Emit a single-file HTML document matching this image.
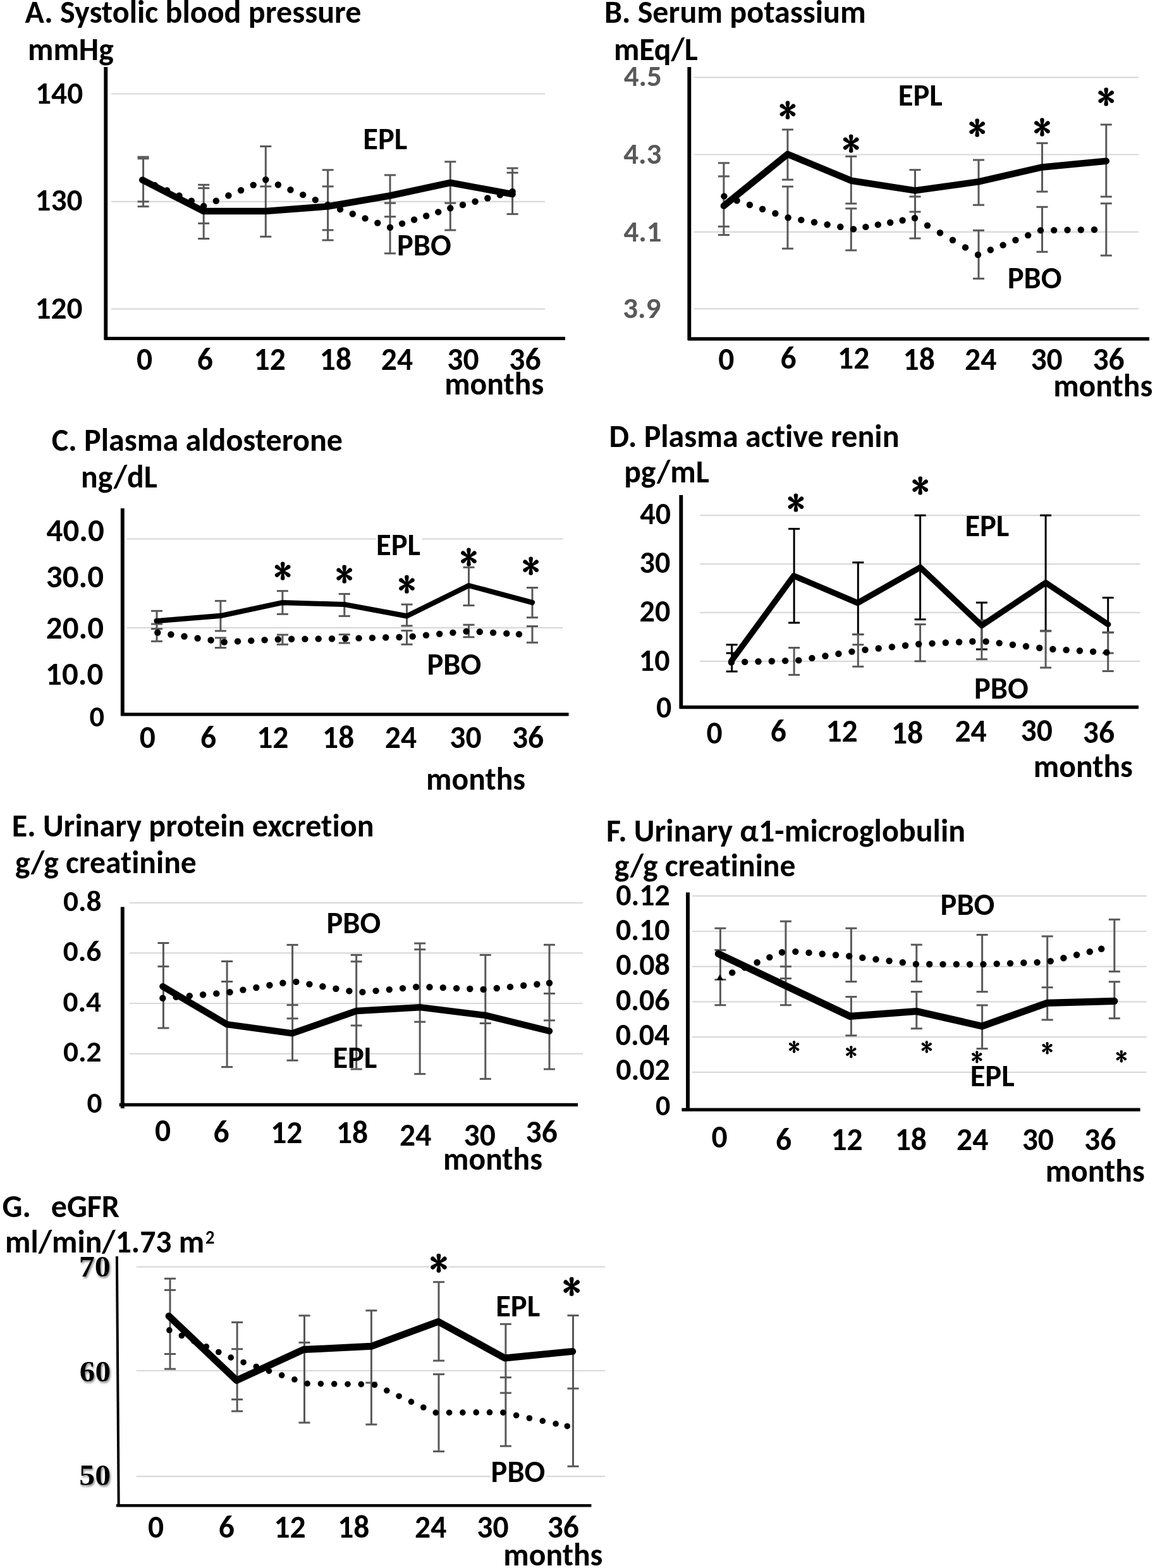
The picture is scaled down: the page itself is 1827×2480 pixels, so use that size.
<!DOCTYPE html>
<html><head><meta charset="utf-8"><title>Figure</title>
<style>html,body{margin:0;padding:0;background:#fff;}svg{display:block;font-variant-ligatures:none;}</style></head>
<body><svg width="1827" height="2480" viewBox="0 0 1827 2480">
<defs><filter id="sh" x="-20%" y="-20%" width="140%" height="150%"><feDropShadow dx="1.5" dy="2.5" stdDeviation="1.6" flood-color="#7a7a7a" flood-opacity="0.9"/></filter></defs>
<rect width="1827" height="2480" fill="#fff"/>
<text x="39.6" y="36.3" font-family="Carlito, 'Liberation Sans', sans-serif" font-weight="bold" font-size="50.1" fill="#000" textLength="531.9" lengthAdjust="spacingAndGlyphs">A. Systolic blood pressure</text>
<text x="44.0" y="95.2" font-family="Carlito, 'Liberation Sans', sans-serif" font-weight="bold" font-size="49.7" fill="#000" textLength="135.8" lengthAdjust="spacingAndGlyphs">mmHg</text>
<g stroke="#d9d9d9" stroke-width="2.2"><line x1="176" y1="148.5" x2="862" y2="148.5"/><line x1="176" y1="318.9" x2="862" y2="318.9"/><line x1="176" y1="488.6" x2="862" y2="488.6"/></g>
<text x="56.1" y="163.5" font-family="Carlito, 'Liberation Sans', sans-serif" font-weight="bold" font-size="49.4" fill="#000" textLength="75.1" lengthAdjust="spacingAndGlyphs">140</text>
<text x="55.4" y="333.4" font-family="Carlito, 'Liberation Sans', sans-serif" font-weight="bold" font-size="49.4" fill="#000" textLength="75.1" lengthAdjust="spacingAndGlyphs">130</text>
<text x="55.4" y="504.3" font-family="Carlito, 'Liberation Sans', sans-serif" font-weight="bold" font-size="49.4" fill="#000" textLength="75.1" lengthAdjust="spacingAndGlyphs">120</text>
<text x="216.1" y="584.5" font-family="Carlito, 'Liberation Sans', sans-serif" font-weight="bold" font-size="49.6" fill="#000">0</text>
<text x="311.8" y="584.5" font-family="Carlito, 'Liberation Sans', sans-serif" font-weight="bold" font-size="49.6" fill="#000">6</text>
<text x="401.6" y="584.5" font-family="Carlito, 'Liberation Sans', sans-serif" font-weight="bold" font-size="49.6" fill="#000" textLength="50.3" lengthAdjust="spacingAndGlyphs">12</text>
<text x="505.8" y="584.5" font-family="Carlito, 'Liberation Sans', sans-serif" font-weight="bold" font-size="49.6" fill="#000" textLength="50.3" lengthAdjust="spacingAndGlyphs">18</text>
<text x="602.8" y="584.5" font-family="Carlito, 'Liberation Sans', sans-serif" font-weight="bold" font-size="49.6" fill="#000" textLength="50.3" lengthAdjust="spacingAndGlyphs">24</text>
<text x="707.3" y="584.5" font-family="Carlito, 'Liberation Sans', sans-serif" font-weight="bold" font-size="49.6" fill="#000" textLength="50.3" lengthAdjust="spacingAndGlyphs">30</text>
<text x="805.3" y="584.5" font-family="Carlito, 'Liberation Sans', sans-serif" font-weight="bold" font-size="49.6" fill="#000" textLength="50.3" lengthAdjust="spacingAndGlyphs">36</text>
<text x="703.2" y="623.8" font-family="Carlito, 'Liberation Sans', sans-serif" font-weight="bold" font-size="49.7" fill="#000" textLength="157.1" lengthAdjust="spacingAndGlyphs">months</text>
<g stroke="#595959" stroke-width="3"><line x1="226.6" y1="248.2" x2="226.6" y2="326.6"/><line x1="217.6" y1="248.2" x2="235.6" y2="248.2"/><line x1="217.6" y1="250.8" x2="235.6" y2="250.8"/><line x1="217.6" y1="318.9" x2="235.6" y2="318.9"/><line x1="217.6" y1="326.6" x2="235.6" y2="326.6"/></g>
<g stroke="#595959" stroke-width="3"><line x1="322.2" y1="292.3" x2="322.2" y2="377.5"/><line x1="313.2" y1="292.3" x2="331.2" y2="292.3"/><line x1="313.2" y1="297.6" x2="331.2" y2="297.6"/><line x1="313.2" y1="353.3" x2="331.2" y2="353.3"/><line x1="313.2" y1="377.5" x2="331.2" y2="377.5"/></g>
<g stroke="#595959" stroke-width="3"><line x1="420.3" y1="231.5" x2="420.3" y2="374.3"/><line x1="411.3" y1="231.5" x2="429.3" y2="231.5"/><line x1="411.3" y1="294.9" x2="429.3" y2="294.9"/><line x1="411.3" y1="374.3" x2="429.3" y2="374.3"/></g>
<g stroke="#595959" stroke-width="3"><line x1="518.6" y1="268.8" x2="518.6" y2="379.9"/><line x1="509.6" y1="268.8" x2="527.6" y2="268.8"/><line x1="509.6" y1="294.9" x2="527.6" y2="294.9"/><line x1="509.6" y1="363.9" x2="527.6" y2="363.9"/><line x1="509.6" y1="379.9" x2="527.6" y2="379.9"/></g>
<g stroke="#595959" stroke-width="3"><line x1="617.0" y1="276.9" x2="617.0" y2="400.8"/><line x1="608.0" y1="276.9" x2="626.0" y2="276.9"/><line x1="608.0" y1="321.2" x2="626.0" y2="321.2"/><line x1="608.0" y1="342.7" x2="626.0" y2="342.7"/><line x1="608.0" y1="400.8" x2="626.0" y2="400.8"/></g>
<g stroke="#595959" stroke-width="3"><line x1="712.3" y1="255.8" x2="712.3" y2="364.0"/><line x1="703.3" y1="255.8" x2="721.3" y2="255.8"/><line x1="703.3" y1="321.2" x2="721.3" y2="321.2"/><line x1="703.3" y1="364.0" x2="721.3" y2="364.0"/></g>
<g stroke="#595959" stroke-width="3"><line x1="810.6" y1="266.0" x2="810.6" y2="338.6"/><line x1="801.6" y1="266.0" x2="819.6" y2="266.0"/><line x1="801.6" y1="273.2" x2="819.6" y2="273.2"/><line x1="801.6" y1="338.6" x2="819.6" y2="338.6"/></g>
<g fill="#000"><circle cx="225.4" cy="284.7" r="5.2"/><circle cx="244.8" cy="293.0" r="5.2"/><circle cx="264.1" cy="301.2" r="5.2"/><circle cx="283.5" cy="309.5" r="5.2"/><circle cx="302.8" cy="317.7" r="5.2"/><circle cx="322.2" cy="326.0" r="5.2"/><circle cx="341.8" cy="317.7" r="5.2"/><circle cx="361.4" cy="309.3" r="5.2"/><circle cx="381.1" cy="301.0" r="5.2"/><circle cx="400.7" cy="292.6" r="5.2"/><circle cx="420.3" cy="284.3" r="5.2"/><circle cx="439.9" cy="292.2" r="5.2"/><circle cx="459.5" cy="300.2" r="5.2"/><circle cx="479.2" cy="308.1" r="5.2"/><circle cx="498.8" cy="316.1" r="5.2"/><circle cx="518.4" cy="324.0" r="5.2"/><circle cx="538.1" cy="331.1" r="5.2"/><circle cx="557.8" cy="338.3" r="5.2"/><circle cx="577.6" cy="345.4" r="5.2"/><circle cx="597.3" cy="352.6" r="5.2"/><circle cx="617.0" cy="359.7" r="5.2"/><circle cx="636.1" cy="353.6" r="5.2"/><circle cx="655.1" cy="347.5" r="5.2"/><circle cx="674.2" cy="341.5" r="5.2"/><circle cx="693.2" cy="335.4" r="5.2"/><circle cx="712.3" cy="329.3" r="5.2"/><circle cx="732.0" cy="324.0" r="5.2"/><circle cx="751.6" cy="318.8" r="5.2"/><circle cx="771.3" cy="313.5" r="5.2"/><circle cx="790.9" cy="308.3" r="5.2"/><circle cx="810.6" cy="303.0" r="5.2"/></g>
<polyline points="225.4,284.7 321.5,333.9 420.3,333.9 518.4,326.5 617.0,309.5 712.3,289.0 810.6,307.1" fill="none" stroke="#000" stroke-width="10.5" stroke-linecap="round" stroke-linejoin="round"/>
<text x="574.3" y="235.7" font-family="Carlito, 'Liberation Sans', sans-serif" font-weight="bold" font-size="48.5" fill="#000" textLength="70.0" lengthAdjust="spacingAndGlyphs">EPL</text>
<text x="627.9" y="404.0" font-family="Carlito, 'Liberation Sans', sans-serif" font-weight="bold" font-size="48.5" fill="#000" textLength="85.8" lengthAdjust="spacingAndGlyphs">PBO</text>
<line x1="167.3" y1="106" x2="167.3" y2="537.5" stroke="#000" stroke-width="5.9"/>
<line x1="165.4" y1="535.3" x2="894" y2="535.3" stroke="#000" stroke-width="5.3"/>
<text x="955.9" y="36.2" font-family="Carlito, 'Liberation Sans', sans-serif" font-weight="bold" font-size="50.1" fill="#000" textLength="413.8" lengthAdjust="spacingAndGlyphs">B. Serum potassium</text>
<text x="970.9" y="94.7" font-family="Carlito, 'Liberation Sans', sans-serif" font-weight="bold" font-size="49.7" fill="#000" textLength="133.0" lengthAdjust="spacingAndGlyphs">mEq/L</text>
<g stroke="#d9d9d9" stroke-width="2.2"><line x1="1097.5" y1="122.3" x2="1801" y2="122.3"/><line x1="1097.5" y1="244.5" x2="1801" y2="244.5"/><line x1="1097.5" y1="366.8" x2="1801" y2="366.8"/><line x1="1097.5" y1="488.4" x2="1801" y2="488.4"/></g>
<text x="986.7" y="136.4" font-family="Carlito, 'Liberation Sans', sans-serif" font-weight="bold" font-size="47.0" fill="#595959" textLength="60.2" lengthAdjust="spacingAndGlyphs">4.5</text>
<text x="986.2" y="259.0" font-family="Carlito, 'Liberation Sans', sans-serif" font-weight="bold" font-size="47.0" fill="#595959" textLength="60.2" lengthAdjust="spacingAndGlyphs">4.3</text>
<text x="986.4" y="381.6" font-family="Carlito, 'Liberation Sans', sans-serif" font-weight="bold" font-size="47.0" fill="#595959" textLength="60.2" lengthAdjust="spacingAndGlyphs">4.1</text>
<text x="985.2" y="502.5" font-family="Carlito, 'Liberation Sans', sans-serif" font-weight="bold" font-size="47.0" fill="#595959" textLength="60.2" lengthAdjust="spacingAndGlyphs">3.9</text>
<text x="1136.2" y="585.0" font-family="Carlito, 'Liberation Sans', sans-serif" font-weight="bold" font-size="49.6" fill="#000">0</text>
<text x="1234.6" y="583.0" font-family="Carlito, 'Liberation Sans', sans-serif" font-weight="bold" font-size="49.6" fill="#000">6</text>
<text x="1325.0" y="583.0" font-family="Carlito, 'Liberation Sans', sans-serif" font-weight="bold" font-size="49.6" fill="#000" textLength="50.3" lengthAdjust="spacingAndGlyphs">12</text>
<text x="1428.5" y="585.3" font-family="Carlito, 'Liberation Sans', sans-serif" font-weight="bold" font-size="49.6" fill="#000" textLength="50.3" lengthAdjust="spacingAndGlyphs">18</text>
<text x="1526.1" y="585.3" font-family="Carlito, 'Liberation Sans', sans-serif" font-weight="bold" font-size="49.6" fill="#000" textLength="50.3" lengthAdjust="spacingAndGlyphs">24</text>
<text x="1630.4" y="585.0" font-family="Carlito, 'Liberation Sans', sans-serif" font-weight="bold" font-size="49.6" fill="#000" textLength="50.3" lengthAdjust="spacingAndGlyphs">30</text>
<text x="1728.4" y="585.0" font-family="Carlito, 'Liberation Sans', sans-serif" font-weight="bold" font-size="49.6" fill="#000" textLength="50.3" lengthAdjust="spacingAndGlyphs">36</text>
<text x="1666.2" y="626.8" font-family="Carlito, 'Liberation Sans', sans-serif" font-weight="bold" font-size="49.7" fill="#000" textLength="157.1" lengthAdjust="spacingAndGlyphs">months</text>
<g stroke="#595959" stroke-width="3"><line x1="1144.9" y1="257.8" x2="1144.9" y2="371.6"/><line x1="1135.9" y1="257.8" x2="1153.9" y2="257.8"/><line x1="1135.9" y1="278.9" x2="1153.9" y2="278.9"/><line x1="1135.9" y1="358.3" x2="1153.9" y2="358.3"/><line x1="1135.9" y1="371.6" x2="1153.9" y2="371.6"/></g>
<g stroke="#595959" stroke-width="3"><line x1="1245.9" y1="205.0" x2="1245.9" y2="284.2"/><line x1="1245.9" y1="295.1" x2="1245.9" y2="393.2"/><line x1="1236.9" y1="205.0" x2="1254.9" y2="205.0"/><line x1="1236.9" y1="284.2" x2="1254.9" y2="284.2"/><line x1="1236.9" y1="295.1" x2="1254.9" y2="295.1"/><line x1="1236.9" y1="393.2" x2="1254.9" y2="393.2"/></g>
<g stroke="#595959" stroke-width="3"><line x1="1346.3" y1="247.4" x2="1346.3" y2="322.0"/><line x1="1346.3" y1="329.8" x2="1346.3" y2="395.9"/><line x1="1337.3" y1="247.4" x2="1355.3" y2="247.4"/><line x1="1337.3" y1="322.0" x2="1355.3" y2="322.0"/><line x1="1337.3" y1="329.8" x2="1355.3" y2="329.8"/><line x1="1337.3" y1="395.9" x2="1355.3" y2="395.9"/></g>
<g stroke="#595959" stroke-width="3"><line x1="1447.5" y1="268.7" x2="1447.5" y2="377.0"/><line x1="1438.5" y1="268.7" x2="1456.5" y2="268.7"/><line x1="1438.5" y1="311.0" x2="1456.5" y2="311.0"/><line x1="1438.5" y1="335.0" x2="1456.5" y2="335.0"/><line x1="1438.5" y1="377.0" x2="1456.5" y2="377.0"/></g>
<g stroke="#595959" stroke-width="3"><line x1="1548.0" y1="253.0" x2="1548.0" y2="324.2"/><line x1="1548.0" y1="364.4" x2="1548.0" y2="440.7"/><line x1="1539.0" y1="253.0" x2="1557.0" y2="253.0"/><line x1="1539.0" y1="324.2" x2="1557.0" y2="324.2"/><line x1="1539.0" y1="364.4" x2="1557.0" y2="364.4"/><line x1="1539.0" y1="440.7" x2="1557.0" y2="440.7"/></g>
<g stroke="#595959" stroke-width="3"><line x1="1648.5" y1="226.4" x2="1648.5" y2="303.1"/><line x1="1648.5" y1="327.3" x2="1648.5" y2="398.3"/><line x1="1639.5" y1="226.4" x2="1657.5" y2="226.4"/><line x1="1639.5" y1="303.1" x2="1657.5" y2="303.1"/><line x1="1639.5" y1="327.3" x2="1657.5" y2="327.3"/><line x1="1639.5" y1="398.3" x2="1657.5" y2="398.3"/></g>
<g stroke="#595959" stroke-width="3"><line x1="1749.8" y1="197.1" x2="1749.8" y2="311.1"/><line x1="1749.8" y1="321.8" x2="1749.8" y2="404.1"/><line x1="1740.8" y1="197.1" x2="1758.8" y2="197.1"/><line x1="1740.8" y1="311.1" x2="1758.8" y2="311.1"/><line x1="1740.8" y1="321.8" x2="1758.8" y2="321.8"/><line x1="1740.8" y1="404.1" x2="1758.8" y2="404.1"/></g>
<g fill="#000"><circle cx="1145.4" cy="310.4" r="5.2"/><circle cx="1165.6" cy="317.2" r="5.2"/><circle cx="1185.9" cy="324.0" r="5.2"/><circle cx="1206.1" cy="330.7" r="5.2"/><circle cx="1226.4" cy="337.5" r="5.2"/><circle cx="1246.6" cy="344.3" r="5.2"/><circle cx="1267.3" cy="347.9" r="5.2"/><circle cx="1288.0" cy="351.5" r="5.2"/><circle cx="1308.6" cy="355.2" r="5.2"/><circle cx="1329.3" cy="358.8" r="5.2"/><circle cx="1350.0" cy="362.4" r="5.2"/><circle cx="1369.4" cy="358.9" r="5.2"/><circle cx="1388.8" cy="355.4" r="5.2"/><circle cx="1408.2" cy="352.0" r="5.2"/><circle cx="1427.6" cy="348.5" r="5.2"/><circle cx="1447.0" cy="345.0" r="5.2"/><circle cx="1467.0" cy="356.6" r="5.2"/><circle cx="1487.0" cy="368.2" r="5.2"/><circle cx="1507.0" cy="379.8" r="5.2"/><circle cx="1527.0" cy="391.4" r="5.2"/><circle cx="1547.0" cy="403.0" r="5.2"/><circle cx="1566.8" cy="395.3" r="5.2"/><circle cx="1586.6" cy="387.6" r="5.2"/><circle cx="1606.4" cy="379.8" r="5.2"/><circle cx="1626.2" cy="372.1" r="5.2"/><circle cx="1646.0" cy="364.4" r="5.2"/><circle cx="1667.2" cy="364.1" r="5.2"/><circle cx="1688.5" cy="363.8" r="5.2"/><circle cx="1709.8" cy="363.5" r="5.2"/><circle cx="1731.0" cy="363.2" r="5.2"/></g>
<polyline points="1144.9,325.6 1245.9,243.8 1346.3,285.7 1447.5,301.4 1548.0,287.4 1648.5,264.4 1749.8,254.7" fill="none" stroke="#000" stroke-width="10.5" stroke-linecap="round" stroke-linejoin="round"/>
<text x="1232.2" y="194.6" font-family="IPAGothic, 'Liberation Sans', sans-serif" font-weight="bold" font-size="54.9">*</text>
<text x="1332.6" y="247.7" font-family="IPAGothic, 'Liberation Sans', sans-serif" font-weight="bold" font-size="54.9">*</text>
<text x="1531.9" y="223.1" font-family="IPAGothic, 'Liberation Sans', sans-serif" font-weight="bold" font-size="54.9">*</text>
<text x="1634.8" y="221.6" font-family="IPAGothic, 'Liberation Sans', sans-serif" font-weight="bold" font-size="54.9">*</text>
<text x="1736.1" y="173.5" font-family="IPAGothic, 'Liberation Sans', sans-serif" font-weight="bold" font-size="54.9">*</text>
<text x="1420.8" y="166.5" font-family="Carlito, 'Liberation Sans', sans-serif" font-weight="bold" font-size="48.5" fill="#000" textLength="70.0" lengthAdjust="spacingAndGlyphs">EPL</text>
<text x="1593.8" y="456.0" font-family="Carlito, 'Liberation Sans', sans-serif" font-weight="bold" font-size="48.5" fill="#000" textLength="85.8" lengthAdjust="spacingAndGlyphs">PBO</text>
<line x1="1090.3" y1="106" x2="1090.3" y2="538" stroke="#000" stroke-width="5.9"/>
<line x1="1088" y1="536" x2="1818" y2="536" stroke="#000" stroke-width="5.3"/>
<text x="81.8" y="713.0" font-family="Carlito, 'Liberation Sans', sans-serif" font-weight="bold" font-size="50.1" fill="#000" textLength="460.2" lengthAdjust="spacingAndGlyphs">C. Plasma aldosterone</text>
<text x="128.0" y="771.2" font-family="Carlito, 'Liberation Sans', sans-serif" font-weight="bold" font-size="49.7" fill="#000" textLength="120.7" lengthAdjust="spacingAndGlyphs">ng/dL</text>
<g stroke="#d9d9d9" stroke-width="2.2"><line x1="200.7" y1="852.4" x2="890.4" y2="852.4"/><line x1="200.7" y1="992.8" x2="890.4" y2="992.8"/></g>
<text x="73.6" y="856.2" font-family="Carlito, 'Liberation Sans', sans-serif" font-weight="bold" font-size="51.0" fill="#000" textLength="91.2" lengthAdjust="spacingAndGlyphs">40.0</text>
<text x="72.8" y="928.6" font-family="Carlito, 'Liberation Sans', sans-serif" font-weight="bold" font-size="51.0" fill="#000" textLength="91.2" lengthAdjust="spacingAndGlyphs">30.0</text>
<text x="72.8" y="1010.4" font-family="Carlito, 'Liberation Sans', sans-serif" font-weight="bold" font-size="51.0" fill="#000" textLength="91.2" lengthAdjust="spacingAndGlyphs">20.0</text>
<text x="72.1" y="1082.8" font-family="Carlito, 'Liberation Sans', sans-serif" font-weight="bold" font-size="51.0" fill="#000" textLength="91.2" lengthAdjust="spacingAndGlyphs">10.0</text>
<text x="141.6" y="1148.6" font-family="Carlito, 'Liberation Sans', sans-serif" font-weight="bold" font-size="46.5" fill="#000">0</text>
<text x="220.8" y="1182.6" font-family="Carlito, 'Liberation Sans', sans-serif" font-weight="bold" font-size="49.6" fill="#000">0</text>
<text x="317.1" y="1182.6" font-family="Carlito, 'Liberation Sans', sans-serif" font-weight="bold" font-size="49.6" fill="#000">6</text>
<text x="406.2" y="1182.6" font-family="Carlito, 'Liberation Sans', sans-serif" font-weight="bold" font-size="49.6" fill="#000" textLength="50.3" lengthAdjust="spacingAndGlyphs">12</text>
<text x="510.1" y="1182.6" font-family="Carlito, 'Liberation Sans', sans-serif" font-weight="bold" font-size="49.6" fill="#000" textLength="50.3" lengthAdjust="spacingAndGlyphs">18</text>
<text x="608.8" y="1182.6" font-family="Carlito, 'Liberation Sans', sans-serif" font-weight="bold" font-size="49.6" fill="#000" textLength="50.3" lengthAdjust="spacingAndGlyphs">24</text>
<text x="711.3" y="1182.6" font-family="Carlito, 'Liberation Sans', sans-serif" font-weight="bold" font-size="49.6" fill="#000" textLength="50.3" lengthAdjust="spacingAndGlyphs">30</text>
<text x="809.9" y="1182.6" font-family="Carlito, 'Liberation Sans', sans-serif" font-weight="bold" font-size="49.6" fill="#000" textLength="50.3" lengthAdjust="spacingAndGlyphs">36</text>
<text x="674.1" y="1248.7" font-family="Carlito, 'Liberation Sans', sans-serif" font-weight="bold" font-size="49.7" fill="#000" textLength="157.1" lengthAdjust="spacingAndGlyphs">months</text>
<g stroke="#595959" stroke-width="3"><line x1="248.0" y1="966.3" x2="248.0" y2="1014.3"/><line x1="239.0" y1="966.3" x2="257.0" y2="966.3"/><line x1="239.0" y1="987.0" x2="257.0" y2="987.0"/><line x1="239.0" y1="994.6" x2="257.0" y2="994.6"/><line x1="239.0" y1="1014.3" x2="257.0" y2="1014.3"/></g>
<g stroke="#595959" stroke-width="3"><line x1="348.9" y1="950.4" x2="348.9" y2="997.9"/><line x1="348.9" y1="1008.8" x2="348.9" y2="1024.5"/><line x1="339.9" y1="950.4" x2="357.9" y2="950.4"/><line x1="339.9" y1="997.9" x2="357.9" y2="997.9"/><line x1="339.9" y1="1008.8" x2="357.9" y2="1008.8"/><line x1="339.9" y1="1024.5" x2="357.9" y2="1024.5"/></g>
<g stroke="#595959" stroke-width="3"><line x1="446.9" y1="934.7" x2="446.9" y2="971.3"/><line x1="446.9" y1="1004.0" x2="446.9" y2="1019.3"/><line x1="437.9" y1="934.7" x2="455.9" y2="934.7"/><line x1="437.9" y1="971.3" x2="455.9" y2="971.3"/><line x1="437.9" y1="1004.0" x2="455.9" y2="1004.0"/><line x1="437.9" y1="1019.3" x2="455.9" y2="1019.3"/></g>
<g stroke="#595959" stroke-width="3"><line x1="544.8" y1="939.4" x2="544.8" y2="974.4"/><line x1="544.8" y1="1003.6" x2="544.8" y2="1017.0"/><line x1="535.8" y1="939.4" x2="553.8" y2="939.4"/><line x1="535.8" y1="974.4" x2="553.8" y2="974.4"/><line x1="535.8" y1="1003.6" x2="553.8" y2="1003.6"/><line x1="535.8" y1="1017.0" x2="553.8" y2="1017.0"/></g>
<g stroke="#595959" stroke-width="3"><line x1="643.5" y1="956.0" x2="643.5" y2="989.8"/><line x1="643.5" y1="997.4" x2="643.5" y2="1019.2"/><line x1="634.5" y1="956.0" x2="652.5" y2="956.0"/><line x1="634.5" y1="989.8" x2="652.5" y2="989.8"/><line x1="634.5" y1="997.4" x2="652.5" y2="997.4"/><line x1="634.5" y1="1019.2" x2="652.5" y2="1019.2"/></g>
<g stroke="#595959" stroke-width="3"><line x1="741.5" y1="897.3" x2="741.5" y2="957.6"/><line x1="741.5" y1="988.2" x2="741.5" y2="1007.7"/><line x1="732.5" y1="897.3" x2="750.5" y2="897.3"/><line x1="732.5" y1="957.6" x2="750.5" y2="957.6"/><line x1="732.5" y1="988.2" x2="750.5" y2="988.2"/><line x1="732.5" y1="1007.7" x2="750.5" y2="1007.7"/></g>
<g stroke="#595959" stroke-width="3"><line x1="842.0" y1="929.5" x2="842.0" y2="976.7"/><line x1="842.0" y1="990.5" x2="842.0" y2="1016.3"/><line x1="833.0" y1="929.5" x2="851.0" y2="929.5"/><line x1="833.0" y1="976.7" x2="851.0" y2="976.7"/><line x1="833.0" y1="990.5" x2="851.0" y2="990.5"/><line x1="833.0" y1="1016.3" x2="851.0" y2="1016.3"/></g>
<g fill="#000"><circle cx="249.3" cy="1000.5" r="5.2"/><circle cx="270.4" cy="1003.5" r="5.2"/><circle cx="291.5" cy="1006.5" r="5.2"/><circle cx="312.6" cy="1009.5" r="5.2"/><circle cx="333.6" cy="1012.5" r="5.2"/><circle cx="354.7" cy="1015.5" r="5.2"/><circle cx="376.0" cy="1014.4" r="5.2"/><circle cx="397.3" cy="1013.4" r="5.2"/><circle cx="418.6" cy="1012.3" r="5.2"/><circle cx="439.8" cy="1011.3" r="5.2"/><circle cx="461.1" cy="1010.8" r="5.2"/><circle cx="482.4" cy="1010.6" r="5.2"/><circle cx="503.7" cy="1010.4" r="5.2"/><circle cx="525.0" cy="1010.2" r="5.2"/><circle cx="546.3" cy="1010.0" r="5.2"/><circle cx="567.6" cy="1009.4" r="5.2"/><circle cx="588.9" cy="1008.9" r="5.2"/><circle cx="610.2" cy="1008.3" r="5.2"/><circle cx="631.5" cy="1007.8" r="5.2"/><circle cx="652.7" cy="1006.6" r="5.2"/><circle cx="674.0" cy="1004.6" r="5.2"/><circle cx="695.2" cy="1002.6" r="5.2"/><circle cx="716.4" cy="1000.6" r="5.2"/><circle cx="737.6" cy="998.6" r="5.2"/><circle cx="758.8" cy="999.3" r="5.2"/><circle cx="780.1" cy="1000.6" r="5.2"/><circle cx="801.3" cy="1001.9" r="5.2"/><circle cx="821.0" cy="1003.1" r="5.2"/></g>
<polyline points="247.6,982.2 348.9,973.9 445.9,953.2 544.8,956.0 643.5,974.4 741.5,926.1 842.0,953.0" fill="none" stroke="#000" stroke-width="8.2" stroke-linecap="round" stroke-linejoin="round"/>
<text x="433.6" y="923.9" font-family="IPAGothic, 'Liberation Sans', sans-serif" font-weight="bold" font-size="54.9">*</text>
<text x="531.1" y="929.3" font-family="IPAGothic, 'Liberation Sans', sans-serif" font-weight="bold" font-size="54.9">*</text>
<text x="629.8" y="945.4" font-family="IPAGothic, 'Liberation Sans', sans-serif" font-weight="bold" font-size="54.9">*</text>
<text x="727.8" y="902.3" font-family="IPAGothic, 'Liberation Sans', sans-serif" font-weight="bold" font-size="54.9">*</text>
<text x="826.1" y="916.0" font-family="IPAGothic, 'Liberation Sans', sans-serif" font-weight="bold" font-size="54.9">*</text>
<rect x="594.5" y="843.3" width="72.9" height="37.5" fill="#fff"/><text x="595.1" y="877.8" font-family="Carlito, 'Liberation Sans', sans-serif" font-weight="bold" font-size="48.5" fill="#000" textLength="70.0" lengthAdjust="spacingAndGlyphs">EPL</text>
<text x="675.4" y="1066.8" font-family="Carlito, 'Liberation Sans', sans-serif" font-weight="bold" font-size="48.5" fill="#000" textLength="85.8" lengthAdjust="spacingAndGlyphs">PBO</text>
<line x1="193.8" y1="804" x2="193.8" y2="1131.5" stroke="#000" stroke-width="5.9"/>
<line x1="191" y1="1129.8" x2="899.6" y2="1129.8" stroke="#000" stroke-width="5.3"/>
<text x="963.5" y="706.9" font-family="Carlito, 'Liberation Sans', sans-serif" font-weight="bold" font-size="50.1" fill="#000" textLength="459.0" lengthAdjust="spacingAndGlyphs">D. Plasma active renin</text>
<text x="987.2" y="762.6" font-family="Carlito, 'Liberation Sans', sans-serif" font-weight="bold" font-size="49.7" fill="#000" textLength="134.5" lengthAdjust="spacingAndGlyphs">pg/mL</text>
<g stroke="#d9d9d9" stroke-width="2.2"><line x1="1107.2" y1="815.1" x2="1803.5" y2="815.1"/><line x1="1107.2" y1="892.1" x2="1803.5" y2="892.1"/><line x1="1107.2" y1="968.8" x2="1803.5" y2="968.8"/><line x1="1107.2" y1="1045.8" x2="1803.5" y2="1045.8"/></g>
<text x="1012.3" y="829.2" font-family="Carlito, 'Liberation Sans', sans-serif" font-weight="bold" font-size="48.0" fill="#000" textLength="48.7" lengthAdjust="spacingAndGlyphs">40</text>
<text x="1011.6" y="906.0" font-family="Carlito, 'Liberation Sans', sans-serif" font-weight="bold" font-size="48.0" fill="#000" textLength="48.7" lengthAdjust="spacingAndGlyphs">30</text>
<text x="1011.6" y="983.0" font-family="Carlito, 'Liberation Sans', sans-serif" font-weight="bold" font-size="48.0" fill="#000" textLength="48.7" lengthAdjust="spacingAndGlyphs">20</text>
<text x="1010.8" y="1060.5" font-family="Carlito, 'Liberation Sans', sans-serif" font-weight="bold" font-size="48.0" fill="#000" textLength="48.7" lengthAdjust="spacingAndGlyphs">10</text>
<text x="1037.9" y="1135.0" font-family="Carlito, 'Liberation Sans', sans-serif" font-weight="bold" font-size="48.0" fill="#000">0</text>
<text x="1117.6" y="1175.5" font-family="Carlito, 'Liberation Sans', sans-serif" font-weight="bold" font-size="49.6" fill="#000">0</text>
<text x="1218.8" y="1173.0" font-family="Carlito, 'Liberation Sans', sans-serif" font-weight="bold" font-size="49.6" fill="#000">6</text>
<text x="1306.4" y="1172.6" font-family="Carlito, 'Liberation Sans', sans-serif" font-weight="bold" font-size="49.6" fill="#000" textLength="50.3" lengthAdjust="spacingAndGlyphs">12</text>
<text x="1409.9" y="1176.0" font-family="Carlito, 'Liberation Sans', sans-serif" font-weight="bold" font-size="49.6" fill="#000" textLength="50.3" lengthAdjust="spacingAndGlyphs">18</text>
<text x="1510.4" y="1173.0" font-family="Carlito, 'Liberation Sans', sans-serif" font-weight="bold" font-size="49.6" fill="#000" textLength="50.3" lengthAdjust="spacingAndGlyphs">24</text>
<text x="1614.5" y="1172.0" font-family="Carlito, 'Liberation Sans', sans-serif" font-weight="bold" font-size="49.6" fill="#000" textLength="50.3" lengthAdjust="spacingAndGlyphs">30</text>
<text x="1712.8" y="1175.0" font-family="Carlito, 'Liberation Sans', sans-serif" font-weight="bold" font-size="49.6" fill="#000" textLength="50.3" lengthAdjust="spacingAndGlyphs">36</text>
<text x="1634.8" y="1228.5" font-family="Carlito, 'Liberation Sans', sans-serif" font-weight="bold" font-size="49.7" fill="#000" textLength="157.1" lengthAdjust="spacingAndGlyphs">months</text>
<g stroke="#000" stroke-width="3"><line x1="1157.6" y1="1019.7" x2="1157.6" y2="1062.0"/><line x1="1148.6" y1="1019.7" x2="1166.6" y2="1019.7"/><line x1="1148.6" y1="1033.0" x2="1166.6" y2="1033.0"/><line x1="1148.6" y1="1062.0" x2="1166.6" y2="1062.0"/></g>
<g stroke="#000" stroke-width="3"><line x1="1256.1" y1="836.4" x2="1256.1" y2="985.0"/><line x1="1247.1" y1="836.4" x2="1265.1" y2="836.4"/><line x1="1247.1" y1="985.0" x2="1265.1" y2="985.0"/></g>
<g stroke="#595959" stroke-width="3"><line x1="1256.1" y1="1024.5" x2="1256.1" y2="1067.4"/><line x1="1247.1" y1="1024.5" x2="1265.1" y2="1024.5"/><line x1="1247.1" y1="1067.4" x2="1265.1" y2="1067.4"/></g>
<g stroke="#000" stroke-width="3"><line x1="1357.3" y1="889.6" x2="1357.3" y2="1003.4"/><line x1="1348.3" y1="889.6" x2="1366.3" y2="889.6"/><line x1="1348.3" y1="1003.4" x2="1366.3" y2="1003.4"/></g>
<g stroke="#595959" stroke-width="3"><line x1="1357.3" y1="1003.4" x2="1357.3" y2="1054.3"/><line x1="1348.3" y1="1003.4" x2="1366.3" y2="1003.4"/><line x1="1348.3" y1="1019.7" x2="1366.3" y2="1019.7"/><line x1="1348.3" y1="1054.3" x2="1366.3" y2="1054.3"/></g>
<g stroke="#000" stroke-width="3"><line x1="1455.6" y1="815.1" x2="1455.6" y2="979.7"/><line x1="1446.6" y1="815.1" x2="1464.6" y2="815.1"/><line x1="1446.6" y1="979.7" x2="1464.6" y2="979.7"/></g>
<g stroke="#595959" stroke-width="3"><line x1="1455.6" y1="987.5" x2="1455.6" y2="1045.8"/><line x1="1446.6" y1="987.5" x2="1464.6" y2="987.5"/><line x1="1446.6" y1="1045.8" x2="1464.6" y2="1045.8"/></g>
<g stroke="#000" stroke-width="3"><line x1="1552.9" y1="953.1" x2="1552.9" y2="1027.0"/><line x1="1543.9" y1="953.1" x2="1561.9" y2="953.1"/><line x1="1543.9" y1="1027.0" x2="1561.9" y2="1027.0"/></g>
<g stroke="#595959" stroke-width="3"><line x1="1552.9" y1="981.0" x2="1552.9" y2="1042.7"/><line x1="1543.9" y1="981.0" x2="1561.9" y2="981.0"/><line x1="1543.9" y1="1042.7" x2="1561.9" y2="1042.7"/></g>
<g stroke="#000" stroke-width="3"><line x1="1654.1" y1="815.1" x2="1654.1" y2="997.9"/><line x1="1645.1" y1="815.1" x2="1663.1" y2="815.1"/><line x1="1645.1" y1="997.9" x2="1663.1" y2="997.9"/></g>
<g stroke="#595959" stroke-width="3"><line x1="1654.1" y1="998.0" x2="1654.1" y2="1056.0"/><line x1="1645.1" y1="998.0" x2="1663.1" y2="998.0"/><line x1="1645.1" y1="1056.0" x2="1663.1" y2="1056.0"/></g>
<g stroke="#000" stroke-width="3"><line x1="1752.7" y1="945.3" x2="1752.7" y2="1000.3"/><line x1="1743.7" y1="945.3" x2="1761.7" y2="945.3"/><line x1="1743.7" y1="1000.3" x2="1761.7" y2="1000.3"/></g>
<g stroke="#595959" stroke-width="3"><line x1="1752.7" y1="1000.3" x2="1752.7" y2="1061.5"/><line x1="1743.7" y1="1000.3" x2="1761.7" y2="1000.3"/><line x1="1743.7" y1="1033.0" x2="1761.7" y2="1033.0"/><line x1="1743.7" y1="1061.5" x2="1761.7" y2="1061.5"/></g>
<g fill="#000"><circle cx="1156.9" cy="1047.5" r="5.2"/><circle cx="1178.2" cy="1046.9" r="5.2"/><circle cx="1199.5" cy="1046.3" r="5.2"/><circle cx="1220.8" cy="1045.7" r="5.2"/><circle cx="1242.1" cy="1045.1" r="5.2"/><circle cx="1263.3" cy="1044.4" r="5.2"/><circle cx="1284.4" cy="1040.9" r="5.2"/><circle cx="1305.4" cy="1037.5" r="5.2"/><circle cx="1326.4" cy="1034.0" r="5.2"/><circle cx="1347.4" cy="1030.6" r="5.2"/><circle cx="1368.5" cy="1027.8" r="5.2"/><circle cx="1389.7" cy="1025.5" r="5.2"/><circle cx="1410.9" cy="1023.2" r="5.2"/><circle cx="1432.1" cy="1021.0" r="5.2"/><circle cx="1453.2" cy="1018.7" r="5.2"/><circle cx="1474.5" cy="1017.6" r="5.2"/><circle cx="1495.8" cy="1016.5" r="5.2"/><circle cx="1517.1" cy="1015.5" r="5.2"/><circle cx="1538.3" cy="1014.5" r="5.2"/><circle cx="1559.6" cy="1014.6" r="5.2"/><circle cx="1580.7" cy="1017.1" r="5.2"/><circle cx="1601.9" cy="1019.7" r="5.2"/><circle cx="1623.0" cy="1022.3" r="5.2"/><circle cx="1644.2" cy="1024.8" r="5.2"/><circle cx="1665.4" cy="1026.7" r="5.2"/><circle cx="1686.6" cy="1028.0" r="5.2"/><circle cx="1707.9" cy="1029.3" r="5.2"/><circle cx="1729.1" cy="1030.6" r="5.2"/><circle cx="1750.4" cy="1031.9" r="5.2"/></g>
<polyline points="1156.9,1045.6 1255.6,910.7 1356.6,953.6 1455.7,897.4 1552.9,989.4 1654.1,921.6 1752.7,987.5" fill="none" stroke="#000" stroke-width="9.3" stroke-linecap="round" stroke-linejoin="round"/>
<text x="1245.3" y="815.6" font-family="IPAGothic, 'Liberation Sans', sans-serif" font-weight="bold" font-size="54.9">*</text>
<text x="1441.9" y="789.0" font-family="IPAGothic, 'Liberation Sans', sans-serif" font-weight="bold" font-size="54.9">*</text>
<text x="1526.4" y="848.2" font-family="Carlito, 'Liberation Sans', sans-serif" font-weight="bold" font-size="48.5" fill="#000" textLength="70.0" lengthAdjust="spacingAndGlyphs">EPL</text>
<text x="1541.0" y="1105.1" font-family="Carlito, 'Liberation Sans', sans-serif" font-weight="bold" font-size="48.5" fill="#000" textLength="85.8" lengthAdjust="spacingAndGlyphs">PBO</text>
<line x1="1077.3" y1="783" x2="1077.3" y2="1120.5" stroke="#000" stroke-width="5.9"/>
<line x1="1075" y1="1118.5" x2="1801" y2="1118.5" stroke="#000" stroke-width="5.3"/>
<text x="18.8" y="1323.2" font-family="Carlito, 'Liberation Sans', sans-serif" font-weight="bold" font-size="50.1" fill="#000" textLength="572.7" lengthAdjust="spacingAndGlyphs">E. Urinary protein excretion</text>
<text x="24.1" y="1380.6" font-family="Carlito, 'Liberation Sans', sans-serif" font-weight="bold" font-size="49.7" fill="#000" textLength="286.7" lengthAdjust="spacingAndGlyphs">g/g creatinine</text>
<g stroke="#d9d9d9" stroke-width="2.2"><line x1="205" y1="1428.0" x2="922" y2="1428.0"/><line x1="205" y1="1507.4" x2="922" y2="1507.4"/><line x1="205" y1="1587.0" x2="922" y2="1587.0"/><line x1="205" y1="1666.7" x2="922" y2="1666.7"/></g>
<text x="99.9" y="1440.6" font-family="Carlito, 'Liberation Sans', sans-serif" font-weight="bold" font-size="47.4" fill="#000" textLength="60.7" lengthAdjust="spacingAndGlyphs">0.8</text>
<text x="99.7" y="1519.5" font-family="Carlito, 'Liberation Sans', sans-serif" font-weight="bold" font-size="47.4" fill="#000" textLength="60.7" lengthAdjust="spacingAndGlyphs">0.6</text>
<text x="99.4" y="1599.6" font-family="Carlito, 'Liberation Sans', sans-serif" font-weight="bold" font-size="47.4" fill="#000" textLength="60.7" lengthAdjust="spacingAndGlyphs">0.4</text>
<text x="99.9" y="1678.6" font-family="Carlito, 'Liberation Sans', sans-serif" font-weight="bold" font-size="47.4" fill="#000" textLength="60.7" lengthAdjust="spacingAndGlyphs">0.2</text>
<text x="137.5" y="1759.7" font-family="Carlito, 'Liberation Sans', sans-serif" font-weight="bold" font-size="47.4" fill="#000">0</text>
<text x="245.0" y="1805.4" font-family="Carlito, 'Liberation Sans', sans-serif" font-weight="bold" font-size="49.6" fill="#000">0</text>
<text x="337.6" y="1806.9" font-family="Carlito, 'Liberation Sans', sans-serif" font-weight="bold" font-size="49.6" fill="#000">6</text>
<text x="428.2" y="1808.4" font-family="Carlito, 'Liberation Sans', sans-serif" font-weight="bold" font-size="49.6" fill="#000" textLength="50.3" lengthAdjust="spacingAndGlyphs">12</text>
<text x="531.9" y="1808.4" font-family="Carlito, 'Liberation Sans', sans-serif" font-weight="bold" font-size="49.6" fill="#000" textLength="50.3" lengthAdjust="spacingAndGlyphs">18</text>
<text x="632.0" y="1811.8" font-family="Carlito, 'Liberation Sans', sans-serif" font-weight="bold" font-size="49.6" fill="#000" textLength="50.3" lengthAdjust="spacingAndGlyphs">24</text>
<text x="733.5" y="1811.8" font-family="Carlito, 'Liberation Sans', sans-serif" font-weight="bold" font-size="49.6" fill="#000" textLength="50.3" lengthAdjust="spacingAndGlyphs">30</text>
<text x="831.5" y="1806.9" font-family="Carlito, 'Liberation Sans', sans-serif" font-weight="bold" font-size="49.6" fill="#000" textLength="50.3" lengthAdjust="spacingAndGlyphs">36</text>
<text x="701.0" y="1850.0" font-family="Carlito, 'Liberation Sans', sans-serif" font-weight="bold" font-size="49.7" fill="#000" textLength="157.1" lengthAdjust="spacingAndGlyphs">months</text>
<g stroke="#595959" stroke-width="3"><line x1="258.4" y1="1491.5" x2="258.4" y2="1626.0"/><line x1="249.4" y1="1491.5" x2="267.4" y2="1491.5"/><line x1="249.4" y1="1528.6" x2="267.4" y2="1528.6"/><line x1="249.4" y1="1626.0" x2="267.4" y2="1626.0"/></g>
<g stroke="#595959" stroke-width="3"><line x1="359.1" y1="1520.5" x2="359.1" y2="1687.6"/><line x1="350.1" y1="1520.5" x2="368.1" y2="1520.5"/><line x1="350.1" y1="1552.5" x2="368.1" y2="1552.5"/><line x1="350.1" y1="1687.6" x2="368.1" y2="1687.6"/></g>
<g stroke="#595959" stroke-width="3"><line x1="462.6" y1="1494.4" x2="462.6" y2="1677.2"/><line x1="453.6" y1="1494.4" x2="471.6" y2="1494.4"/><line x1="453.6" y1="1589.6" x2="471.6" y2="1589.6"/><line x1="453.6" y1="1610.9" x2="471.6" y2="1610.9"/><line x1="453.6" y1="1677.2" x2="471.6" y2="1677.2"/></g>
<g stroke="#595959" stroke-width="3"><line x1="563.7" y1="1510.4" x2="563.7" y2="1691.0"/><line x1="554.7" y1="1510.4" x2="572.7" y2="1510.4"/><line x1="554.7" y1="1520.8" x2="572.7" y2="1520.8"/><line x1="554.7" y1="1622.0" x2="572.7" y2="1622.0"/><line x1="554.7" y1="1691.0" x2="572.7" y2="1691.0"/></g>
<g stroke="#595959" stroke-width="3"><line x1="664.2" y1="1492.0" x2="664.2" y2="1698.6"/><line x1="655.2" y1="1492.0" x2="673.2" y2="1492.0"/><line x1="655.2" y1="1501.7" x2="673.2" y2="1501.7"/><line x1="655.2" y1="1616.2" x2="673.2" y2="1616.2"/><line x1="655.2" y1="1698.6" x2="673.2" y2="1698.6"/></g>
<g stroke="#595959" stroke-width="3"><line x1="767.8" y1="1510.4" x2="767.8" y2="1706.4"/><line x1="758.8" y1="1510.4" x2="776.8" y2="1510.4"/><line x1="758.8" y1="1618.5" x2="776.8" y2="1618.5"/><line x1="758.8" y1="1706.4" x2="776.8" y2="1706.4"/></g>
<g stroke="#595959" stroke-width="3"><line x1="869.0" y1="1494.3" x2="869.0" y2="1691.0"/><line x1="860.0" y1="1494.3" x2="878.0" y2="1494.3"/><line x1="860.0" y1="1571.4" x2="878.0" y2="1571.4"/><line x1="860.0" y1="1613.9" x2="878.0" y2="1613.9"/><line x1="860.0" y1="1691.0" x2="878.0" y2="1691.0"/></g>
<g fill="#000"><circle cx="257.4" cy="1578.7" r="5.2"/><circle cx="278.6" cy="1576.9" r="5.2"/><circle cx="299.8" cy="1575.1" r="5.2"/><circle cx="321.1" cy="1573.2" r="5.2"/><circle cx="342.3" cy="1571.4" r="5.2"/><circle cx="363.5" cy="1569.2" r="5.2"/><circle cx="384.4" cy="1565.6" r="5.2"/><circle cx="405.4" cy="1562.0" r="5.2"/><circle cx="426.4" cy="1558.3" r="5.2"/><circle cx="447.4" cy="1554.7" r="5.2"/><circle cx="468.4" cy="1552.9" r="5.2"/><circle cx="489.4" cy="1556.6" r="5.2"/><circle cx="510.4" cy="1560.2" r="5.2"/><circle cx="531.4" cy="1563.8" r="5.2"/><circle cx="552.4" cy="1567.4" r="5.2"/><circle cx="573.4" cy="1569.1" r="5.2"/><circle cx="594.6" cy="1567.1" r="5.2"/><circle cx="615.8" cy="1565.1" r="5.2"/><circle cx="637.0" cy="1563.1" r="5.2"/><circle cx="658.2" cy="1561.0" r="5.2"/><circle cx="679.5" cy="1561.2" r="5.2"/><circle cx="700.8" cy="1562.1" r="5.2"/><circle cx="722.1" cy="1563.1" r="5.2"/><circle cx="743.3" cy="1564.0" r="5.2"/><circle cx="764.6" cy="1564.9" r="5.2"/><circle cx="785.8" cy="1563.0" r="5.2"/><circle cx="807.0" cy="1560.9" r="5.2"/><circle cx="828.2" cy="1558.8" r="5.2"/><circle cx="849.4" cy="1556.7" r="5.2"/><circle cx="869.0" cy="1554.8" r="5.2"/></g>
<polyline points="257.4,1560.2 358.7,1620.1 462.2,1634.3 563.7,1599.0 664.2,1593.2 767.8,1605.9 869.0,1630.7" fill="none" stroke="#000" stroke-width="10.4" stroke-linecap="round" stroke-linejoin="round"/>
<text x="526.4" y="1688.7" font-family="Carlito, 'Liberation Sans', sans-serif" font-weight="bold" font-size="48.5" fill="#000" textLength="70.0" lengthAdjust="spacingAndGlyphs">EPL</text>
<text x="516.4" y="1476.2" font-family="Carlito, 'Liberation Sans', sans-serif" font-weight="bold" font-size="48.5" fill="#000" textLength="85.8" lengthAdjust="spacingAndGlyphs">PBO</text>
<line x1="193.8" y1="1434.6" x2="193.8" y2="1753" stroke="#000" stroke-width="5.9"/>
<line x1="188.7" y1="1747.4" x2="914" y2="1747.4" stroke="#000" stroke-width="5.3"/>
<text x="959.1" y="1331.1" font-family="Carlito, 'Liberation Sans', sans-serif" font-weight="bold" font-size="50.1" fill="#000" textLength="568.0" lengthAdjust="spacingAndGlyphs">F. Urinary α1-microglobulin</text>
<text x="971.8" y="1385.9" font-family="Carlito, 'Liberation Sans', sans-serif" font-weight="bold" font-size="49.7" fill="#000" textLength="286.7" lengthAdjust="spacingAndGlyphs">g/g creatinine</text>
<g stroke="#d9d9d9" stroke-width="2.2"><line x1="1095" y1="1417.2" x2="1813.6" y2="1417.2"/><line x1="1095" y1="1473.0" x2="1813.6" y2="1473.0"/><line x1="1095" y1="1528.7" x2="1813.6" y2="1528.7"/><line x1="1095" y1="1584.4" x2="1813.6" y2="1584.4"/><line x1="1095" y1="1640.2" x2="1813.6" y2="1640.2"/><line x1="1095" y1="1695.8" x2="1813.6" y2="1695.8"/></g>
<text x="974.2" y="1431.8" font-family="Carlito, 'Liberation Sans', sans-serif" font-weight="bold" font-size="47.9" fill="#000" textLength="85.6" lengthAdjust="spacingAndGlyphs">0.12</text>
<text x="974.0" y="1486.6" font-family="Carlito, 'Liberation Sans', sans-serif" font-weight="bold" font-size="47.9" fill="#000" textLength="85.6" lengthAdjust="spacingAndGlyphs">0.10</text>
<text x="974.2" y="1542.0" font-family="Carlito, 'Liberation Sans', sans-serif" font-weight="bold" font-size="47.9" fill="#000" textLength="85.6" lengthAdjust="spacingAndGlyphs">0.08</text>
<text x="974.0" y="1597.5" font-family="Carlito, 'Liberation Sans', sans-serif" font-weight="bold" font-size="47.9" fill="#000" textLength="85.6" lengthAdjust="spacingAndGlyphs">0.06</text>
<text x="973.7" y="1652.5" font-family="Carlito, 'Liberation Sans', sans-serif" font-weight="bold" font-size="47.9" fill="#000" textLength="85.6" lengthAdjust="spacingAndGlyphs">0.04</text>
<text x="974.2" y="1708.0" font-family="Carlito, 'Liberation Sans', sans-serif" font-weight="bold" font-size="47.9" fill="#000" textLength="85.6" lengthAdjust="spacingAndGlyphs">0.02</text>
<text x="1037.0" y="1764.0" font-family="Carlito, 'Liberation Sans', sans-serif" font-weight="bold" font-size="46.0" fill="#000">0</text>
<text x="1125.6" y="1815.3" font-family="Carlito, 'Liberation Sans', sans-serif" font-weight="bold" font-size="49.6" fill="#000">0</text>
<text x="1226.9" y="1818.6" font-family="Carlito, 'Liberation Sans', sans-serif" font-weight="bold" font-size="49.6" fill="#000">6</text>
<text x="1314.4" y="1818.6" font-family="Carlito, 'Liberation Sans', sans-serif" font-weight="bold" font-size="49.6" fill="#000" textLength="50.3" lengthAdjust="spacingAndGlyphs">12</text>
<text x="1415.7" y="1818.6" font-family="Carlito, 'Liberation Sans', sans-serif" font-weight="bold" font-size="49.6" fill="#000" textLength="50.3" lengthAdjust="spacingAndGlyphs">18</text>
<text x="1513.1" y="1818.5" font-family="Carlito, 'Liberation Sans', sans-serif" font-weight="bold" font-size="49.6" fill="#000" textLength="50.3" lengthAdjust="spacingAndGlyphs">24</text>
<text x="1616.7" y="1818.5" font-family="Carlito, 'Liberation Sans', sans-serif" font-weight="bold" font-size="49.6" fill="#000" textLength="50.3" lengthAdjust="spacingAndGlyphs">30</text>
<text x="1715.0" y="1818.5" font-family="Carlito, 'Liberation Sans', sans-serif" font-weight="bold" font-size="49.6" fill="#000" textLength="50.3" lengthAdjust="spacingAndGlyphs">36</text>
<text x="1653.7" y="1869.0" font-family="Carlito, 'Liberation Sans', sans-serif" font-weight="bold" font-size="49.7" fill="#000" textLength="157.1" lengthAdjust="spacingAndGlyphs">months</text>
<g stroke="#595959" stroke-width="3"><line x1="1139.4" y1="1468.2" x2="1139.4" y2="1589.7"/><line x1="1130.4" y1="1468.2" x2="1148.4" y2="1468.2"/><line x1="1130.4" y1="1502.7" x2="1148.4" y2="1502.7"/><line x1="1130.4" y1="1549.4" x2="1148.4" y2="1549.4"/><line x1="1130.4" y1="1589.7" x2="1148.4" y2="1589.7"/></g>
<g stroke="#595959" stroke-width="3"><line x1="1242.9" y1="1457.2" x2="1242.9" y2="1589.7"/><line x1="1233.9" y1="1457.2" x2="1251.9" y2="1457.2"/><line x1="1233.9" y1="1528.7" x2="1251.9" y2="1528.7"/><line x1="1233.9" y1="1547.6" x2="1251.9" y2="1547.6"/><line x1="1233.9" y1="1589.7" x2="1251.9" y2="1589.7"/></g>
<g stroke="#595959" stroke-width="3"><line x1="1346.4" y1="1468.2" x2="1346.4" y2="1552.6"/><line x1="1346.4" y1="1576.6" x2="1346.4" y2="1637.8"/><line x1="1337.4" y1="1468.2" x2="1355.4" y2="1468.2"/><line x1="1337.4" y1="1552.6" x2="1355.4" y2="1552.6"/><line x1="1337.4" y1="1576.6" x2="1355.4" y2="1576.6"/><line x1="1337.4" y1="1637.8" x2="1355.4" y2="1637.8"/></g>
<g stroke="#595959" stroke-width="3"><line x1="1449.8" y1="1494.2" x2="1449.8" y2="1552.4"/><line x1="1449.8" y1="1568.6" x2="1449.8" y2="1626.8"/><line x1="1440.8" y1="1494.2" x2="1458.8" y2="1494.2"/><line x1="1440.8" y1="1552.4" x2="1458.8" y2="1552.4"/><line x1="1440.8" y1="1568.6" x2="1458.8" y2="1568.6"/><line x1="1440.8" y1="1626.8" x2="1458.8" y2="1626.8"/></g>
<g stroke="#595959" stroke-width="3"><line x1="1553.6" y1="1478.5" x2="1553.6" y2="1568.6"/><line x1="1553.6" y1="1589.9" x2="1553.6" y2="1658.6"/><line x1="1544.6" y1="1478.5" x2="1562.6" y2="1478.5"/><line x1="1544.6" y1="1568.6" x2="1562.6" y2="1568.6"/><line x1="1544.6" y1="1589.9" x2="1562.6" y2="1589.9"/><line x1="1544.6" y1="1658.6" x2="1562.6" y2="1658.6"/></g>
<g stroke="#595959" stroke-width="3"><line x1="1656.7" y1="1480.9" x2="1656.7" y2="1613.0"/><line x1="1647.7" y1="1480.9" x2="1665.7" y2="1480.9"/><line x1="1647.7" y1="1561.7" x2="1665.7" y2="1561.7"/><line x1="1647.7" y1="1613.0" x2="1665.7" y2="1613.0"/></g>
<g stroke="#595959" stroke-width="3"><line x1="1762.8" y1="1454.3" x2="1762.8" y2="1536.6"/><line x1="1762.8" y1="1552.8" x2="1762.8" y2="1610.7"/><line x1="1753.8" y1="1454.3" x2="1771.8" y2="1454.3"/><line x1="1753.8" y1="1536.6" x2="1771.8" y2="1536.6"/><line x1="1753.8" y1="1552.8" x2="1771.8" y2="1552.8"/><line x1="1753.8" y1="1610.7" x2="1771.8" y2="1610.7"/></g>
<g fill="#000"><circle cx="1158.2" cy="1538.4" r="5.2"/><circle cx="1177.9" cy="1530.3" r="5.2"/><circle cx="1197.6" cy="1522.2" r="5.2"/><circle cx="1217.3" cy="1514.1" r="5.2"/><circle cx="1237.0" cy="1506.2" r="5.2"/><circle cx="1258.3" cy="1505.1" r="5.2"/><circle cx="1279.5" cy="1506.9" r="5.2"/><circle cx="1300.7" cy="1508.7" r="5.2"/><circle cx="1322.0" cy="1510.5" r="5.2"/><circle cx="1343.2" cy="1512.3" r="5.2"/><circle cx="1364.3" cy="1514.7" r="5.2"/><circle cx="1385.5" cy="1517.3" r="5.2"/><circle cx="1406.6" cy="1519.8" r="5.2"/><circle cx="1427.8" cy="1522.3" r="5.2"/><circle cx="1448.9" cy="1524.9" r="5.2"/><circle cx="1470.2" cy="1525.0" r="5.2"/><circle cx="1491.5" cy="1525.1" r="5.2"/><circle cx="1512.8" cy="1525.1" r="5.2"/><circle cx="1534.1" cy="1525.2" r="5.2"/><circle cx="1555.4" cy="1525.1" r="5.2"/><circle cx="1576.7" cy="1524.4" r="5.2"/><circle cx="1598.0" cy="1523.6" r="5.2"/><circle cx="1619.3" cy="1522.8" r="5.2"/><circle cx="1640.6" cy="1522.1" r="5.2"/><circle cx="1661.7" cy="1520.3" r="5.2"/><circle cx="1682.4" cy="1515.3" r="5.2"/><circle cx="1703.1" cy="1510.3" r="5.2"/><circle cx="1723.8" cy="1505.2" r="5.2"/><circle cx="1742.2" cy="1500.8" r="5.2"/></g>
<polygon points="1138.7,1541 1133.5,1550 1143.9,1550" fill="#000"/>
<polyline points="1136.4,1508.5 1344.5,1607.4 1449.8,1599.5 1553.6,1623.1 1656.7,1586.3 1762.8,1583.3" fill="none" stroke="#000" stroke-width="11.2" stroke-linecap="round" stroke-linejoin="round"/>
<text x="1246.9" y="1668.5" font-family="IPAGothic, 'Liberation Sans', sans-serif" font-weight="bold" font-size="36.3">*</text>
<text x="1337.3" y="1676.6" font-family="IPAGothic, 'Liberation Sans', sans-serif" font-weight="bold" font-size="36.3">*</text>
<text x="1456.7" y="1668.7" font-family="IPAGothic, 'Liberation Sans', sans-serif" font-weight="bold" font-size="36.3">*</text>
<text x="1536.3" y="1685.1" font-family="IPAGothic, 'Liberation Sans', sans-serif" font-weight="bold" font-size="36.3">*</text>
<text x="1647.6" y="1671.1" font-family="IPAGothic, 'Liberation Sans', sans-serif" font-weight="bold" font-size="36.3">*</text>
<text x="1764.7" y="1684.0" font-family="IPAGothic, 'Liberation Sans', sans-serif" font-weight="bold" font-size="36.3">*</text>
<text x="1487.6" y="1447.4" font-family="Carlito, 'Liberation Sans', sans-serif" font-weight="bold" font-size="48.5" fill="#000" textLength="85.8" lengthAdjust="spacingAndGlyphs">PBO</text>
<text x="1534.7" y="1718.0" font-family="Carlito, 'Liberation Sans', sans-serif" font-weight="bold" font-size="48.5" fill="#000" textLength="70.0" lengthAdjust="spacingAndGlyphs">EPL</text>
<line x1="1088" y1="1411.5" x2="1088" y2="1757" stroke="#000" stroke-width="5.9"/>
<line x1="1078.4" y1="1755.2" x2="1803.6" y2="1755.2" stroke="#000" stroke-width="5.3"/>
<text x="3.5" y="1925.0" font-family="Carlito, 'Liberation Sans', sans-serif" font-weight="bold" font-size="50.1" fill="#000" textLength="45.3" lengthAdjust="spacingAndGlyphs">G.</text>
<text x="80.7" y="1925.0" font-family="Carlito, 'Liberation Sans', sans-serif" font-weight="bold" font-size="50.1" fill="#000" textLength="108.3" lengthAdjust="spacingAndGlyphs">eGFR</text>
<text x="8.0" y="1980.6" font-family="Carlito, 'Liberation Sans', sans-serif" font-weight="bold" font-size="49.7" fill="#000" textLength="315.2" lengthAdjust="spacingAndGlyphs">ml/min/1.73 m</text>
<text x="324.9" y="1967.0" font-family="Carlito, 'Liberation Sans', sans-serif" font-weight="bold" font-size="31" fill="#000" textLength="14.4" lengthAdjust="spacingAndGlyphs">2</text>
<g stroke="#d9d9d9" stroke-width="2.2"><line x1="215.7" y1="2003.7" x2="957.2" y2="2003.7"/><line x1="215.7" y1="2168.0" x2="957.2" y2="2168.0"/><line x1="215.7" y1="2335.1" x2="957.2" y2="2335.1"/></g>
<text x="124.7" y="2019.0" font-family="'Liberation Serif', serif" font-weight="bold" filter="url(#sh)" font-size="47" fill="#000" textLength="50.3" lengthAdjust="spacingAndGlyphs">70</text>
<text x="125.8" y="2184.5" font-family="'Liberation Serif', serif" font-weight="bold" filter="url(#sh)" font-size="47" fill="#000" textLength="49.3" lengthAdjust="spacingAndGlyphs">60</text>
<text x="125.3" y="2349.0" font-family="'Liberation Serif', serif" font-weight="bold" filter="url(#sh)" font-size="47" fill="#000" textLength="49.8" lengthAdjust="spacingAndGlyphs">50</text>
<text x="233.9" y="2431.5" font-family="Carlito, 'Liberation Sans', sans-serif" font-weight="bold" font-size="49.6" fill="#000">0</text>
<text x="345.8" y="2431.5" font-family="Carlito, 'Liberation Sans', sans-serif" font-weight="bold" font-size="49.6" fill="#000">6</text>
<text x="433.4" y="2431.5" font-family="Carlito, 'Liberation Sans', sans-serif" font-weight="bold" font-size="49.6" fill="#000" textLength="50.3" lengthAdjust="spacingAndGlyphs">12</text>
<text x="534.2" y="2431.5" font-family="Carlito, 'Liberation Sans', sans-serif" font-weight="bold" font-size="49.6" fill="#000" textLength="50.3" lengthAdjust="spacingAndGlyphs">18</text>
<text x="656.0" y="2431.5" font-family="Carlito, 'Liberation Sans', sans-serif" font-weight="bold" font-size="49.6" fill="#000" textLength="50.3" lengthAdjust="spacingAndGlyphs">24</text>
<text x="754.3" y="2431.5" font-family="Carlito, 'Liberation Sans', sans-serif" font-weight="bold" font-size="49.6" fill="#000" textLength="50.3" lengthAdjust="spacingAndGlyphs">30</text>
<text x="865.7" y="2431.5" font-family="Carlito, 'Liberation Sans', sans-serif" font-weight="bold" font-size="49.6" fill="#000" textLength="50.3" lengthAdjust="spacingAndGlyphs">36</text>
<text x="796.3" y="2475.6" font-family="Carlito, 'Liberation Sans', sans-serif" font-weight="bold" font-size="49.7" fill="#000" textLength="157.1" lengthAdjust="spacingAndGlyphs">months</text>
<g stroke="#595959" stroke-width="3"><line x1="269.0" y1="2022.3" x2="269.0" y2="2165.2"/><line x1="260.0" y1="2022.3" x2="278.0" y2="2022.3"/><line x1="260.0" y1="2040.4" x2="278.0" y2="2040.4"/><line x1="260.0" y1="2141.5" x2="278.0" y2="2141.5"/><line x1="260.0" y1="2165.2" x2="278.0" y2="2165.2"/></g>
<g stroke="#595959" stroke-width="3"><line x1="375.1" y1="2091.4" x2="375.1" y2="2232.0"/><line x1="366.1" y1="2091.4" x2="384.1" y2="2091.4"/><line x1="366.1" y1="2133.7" x2="384.1" y2="2133.7"/><line x1="366.1" y1="2213.4" x2="384.1" y2="2213.4"/><line x1="366.1" y1="2232.0" x2="384.1" y2="2232.0"/></g>
<g stroke="#595959" stroke-width="3"><line x1="481.5" y1="2080.8" x2="481.5" y2="2250.1"/><line x1="472.5" y1="2080.8" x2="490.5" y2="2080.8"/><line x1="472.5" y1="2123.4" x2="490.5" y2="2123.4"/><line x1="472.5" y1="2250.1" x2="490.5" y2="2250.1"/></g>
<g stroke="#595959" stroke-width="3"><line x1="587.4" y1="2072.8" x2="587.4" y2="2253.0"/><line x1="578.4" y1="2072.8" x2="596.4" y2="2072.8"/><line x1="578.4" y1="2187.0" x2="596.4" y2="2187.0"/><line x1="578.4" y1="2253.0" x2="596.4" y2="2253.0"/></g>
<g stroke="#595959" stroke-width="3"><line x1="694.0" y1="2027.7" x2="694.0" y2="2152.1"/><line x1="694.0" y1="2173.6" x2="694.0" y2="2295.6"/><line x1="685.0" y1="2027.7" x2="703.0" y2="2027.7"/><line x1="685.0" y1="2152.1" x2="703.0" y2="2152.1"/><line x1="685.0" y1="2173.6" x2="703.0" y2="2173.6"/><line x1="685.0" y1="2295.6" x2="703.0" y2="2295.6"/></g>
<g stroke="#595959" stroke-width="3"><line x1="799.9" y1="2094.2" x2="799.9" y2="2287.2"/><line x1="790.9" y1="2094.2" x2="808.9" y2="2094.2"/><line x1="790.9" y1="2178.6" x2="808.9" y2="2178.6"/><line x1="790.9" y1="2203.1" x2="808.9" y2="2203.1"/><line x1="790.9" y1="2287.2" x2="808.9" y2="2287.2"/></g>
<g stroke="#595959" stroke-width="3"><line x1="906.5" y1="2080.6" x2="906.5" y2="2319.2"/><line x1="897.5" y1="2080.6" x2="915.5" y2="2080.6"/><line x1="897.5" y1="2196.1" x2="915.5" y2="2196.1"/><line x1="897.5" y1="2319.2" x2="915.5" y2="2319.2"/></g>
<g fill="#000"><circle cx="267.9" cy="2103.9" r="4.8"/><circle cx="287.4" cy="2112.5" r="4.8"/><circle cx="306.8" cy="2121.2" r="4.8"/><circle cx="326.3" cy="2129.8" r="4.8"/><circle cx="345.8" cy="2138.5" r="4.8"/><circle cx="365.2" cy="2147.1" r="4.8"/><circle cx="385.1" cy="2154.7" r="4.8"/><circle cx="405.3" cy="2161.5" r="4.8"/><circle cx="425.5" cy="2168.3" r="4.8"/><circle cx="445.7" cy="2175.1" r="4.8"/><circle cx="465.9" cy="2181.9" r="4.8"/><circle cx="486.1" cy="2188.3" r="4.8"/><circle cx="507.4" cy="2188.6" r="4.8"/><circle cx="528.7" cy="2188.9" r="4.8"/><circle cx="550.0" cy="2189.2" r="4.8"/><circle cx="571.3" cy="2189.4" r="4.8"/><circle cx="592.5" cy="2190.4" r="4.8"/><circle cx="611.8" cy="2199.3" r="4.8"/><circle cx="631.1" cy="2208.2" r="4.8"/><circle cx="650.5" cy="2217.1" r="4.8"/><circle cx="669.8" cy="2226.0" r="4.8"/><circle cx="689.3" cy="2234.3" r="4.8"/><circle cx="710.6" cy="2234.2" r="4.8"/><circle cx="731.9" cy="2234.1" r="4.8"/><circle cx="753.2" cy="2233.9" r="4.8"/><circle cx="774.5" cy="2233.8" r="4.8"/><circle cx="795.8" cy="2234.1" r="4.8"/><circle cx="816.6" cy="2238.6" r="4.8"/><circle cx="837.4" cy="2243.0" r="4.8"/><circle cx="858.3" cy="2247.4" r="4.8"/><circle cx="879.1" cy="2251.8" r="4.8"/><circle cx="897.3" cy="2255.7" r="4.8"/></g>
<polyline points="267.1,2081.6 374.3,2183.3 480.1,2134.6 587.4,2129.3 693.2,2090.3 798.5,2148.0 905.7,2137.4" fill="none" stroke="#000" stroke-width="11" stroke-linecap="round" stroke-linejoin="round"/>
<rect x="678.5" y="1979.4" width="31.0" height="35.0" fill="#fff"/><text x="679.8" y="2018.8" font-family="IPAGothic, 'Liberation Sans', sans-serif" font-weight="bold" font-size="56.9">*</text>
<text x="890.1" y="2056.1" font-family="IPAGothic, 'Liberation Sans', sans-serif" font-weight="bold" font-size="56.9">*</text>
<text x="784.2" y="2081.7" font-family="Carlito, 'Liberation Sans', sans-serif" font-weight="bold" font-size="48.5" fill="#000" textLength="70.0" lengthAdjust="spacingAndGlyphs">EPL</text>
<rect x="776.1" y="2308.7" width="88.6" height="38.0" fill="#fff"/><text x="776.6" y="2343.7" font-family="Carlito, 'Liberation Sans', sans-serif" font-weight="bold" font-size="48.5" fill="#000" textLength="85.8" lengthAdjust="spacingAndGlyphs">PBO</text>
<path d="M184.9,1987 L187.7,2382.4" stroke="#000" stroke-width="4" fill="none"/>
<line x1="183.9" y1="2381.3" x2="935.4" y2="2381.3" stroke="#000" stroke-width="4.5"/>
</svg></body></html>
